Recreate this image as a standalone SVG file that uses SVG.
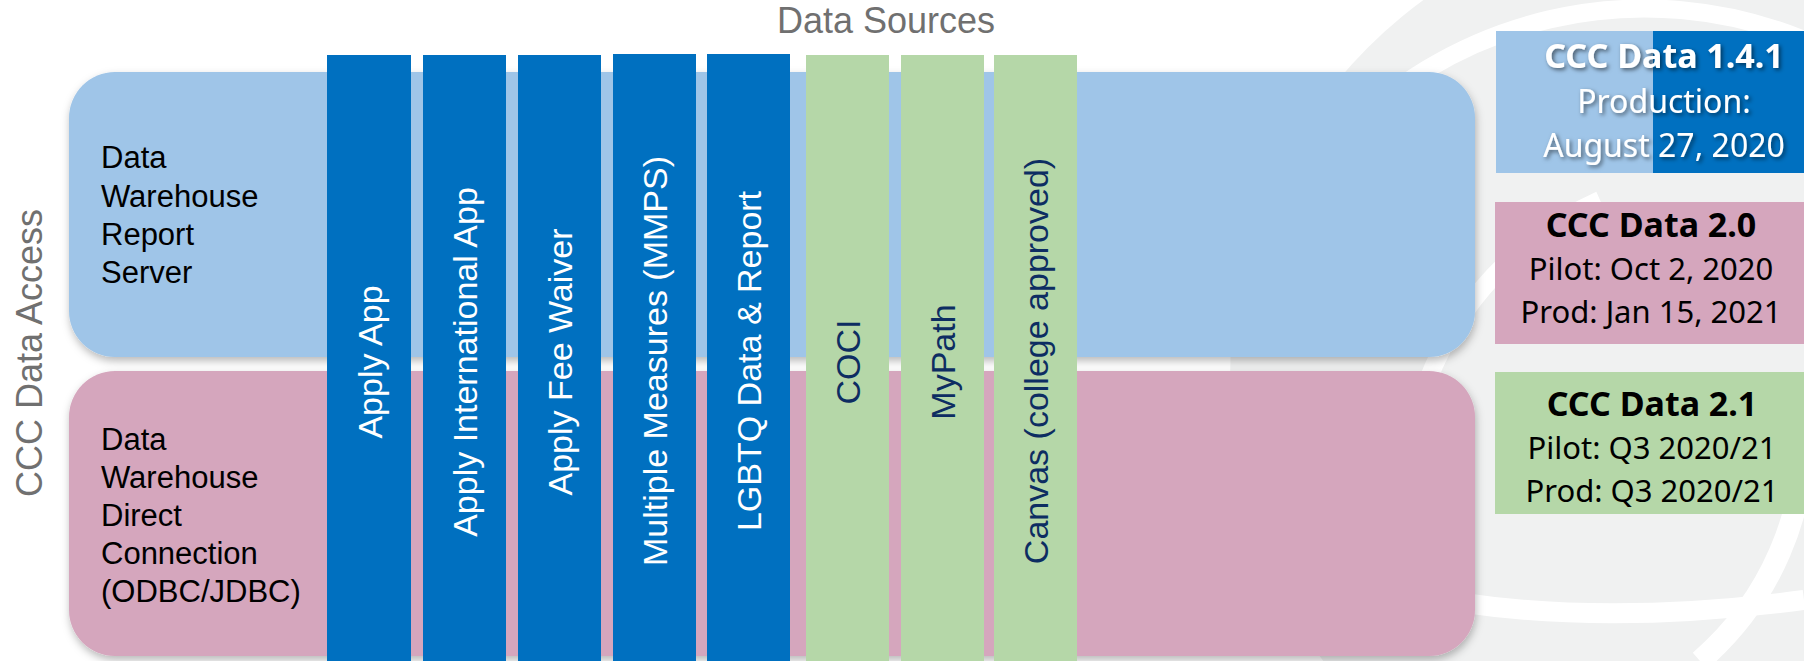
<svg xmlns="http://www.w3.org/2000/svg" width="1804" height="661" viewBox="0 0 1804 661">
  <defs>
    <filter id="bandShadow" x="-5%" y="-10%" width="110%" height="125%">
      <feDropShadow dx="1" dy="4" stdDeviation="4" flood-color="#000" flood-opacity="0.28"/>
    </filter>
    <filter id="textShadow" x="-10%" y="-30%" width="120%" height="160%">
      <feDropShadow dx="2" dy="2" stdDeviation="2" flood-color="#000" flood-opacity="0.55"/>
    </filter>
    <style>
      .gray { font-family: "Liberation Sans", Arial, sans-serif; fill: #707070; font-size: 36px; }
      .band-label { font-family: "Liberation Sans", Arial, sans-serif; fill: #000; font-size: 31px; }
      .col-text { font-family: "Liberation Sans", Arial, sans-serif; font-size: 34px; text-anchor: middle; }
      .blue-col { fill: #0070C0; }
      .green-col { fill: #B5D7A8; }
      .on-blue { fill: #FFFFFF; }
      .on-green { fill: #0D2D62; }
      .ver-bold { font-family: "Noto Sans", "Open Sans", sans-serif; font-weight: bold; font-size: 34px; text-anchor: middle; }
      .ver-reg { font-family: "Noto Sans", "Open Sans", sans-serif; font-size: 31px; text-anchor: middle; }
    </style>
  </defs>

  <rect x="0" y="0" width="1804" height="661" fill="#FFFFFF"/>

  <!-- background watermark -->
  <g id="watermark" fill="none">
    <circle cx="1700" cy="380" r="470" fill="#F0F1F1"/>
    <path d="M1330 150 A420 420 0 0 1 1804 40" stroke="#FFFFFF" stroke-width="18"/>
    <path d="M1420 600 A330 330 0 0 1 1600 200" stroke="#FFFFFF" stroke-width="18"/>
    <path d="M1700 661 A300 300 0 0 0 1804 420" stroke="#FFFFFF" stroke-width="22"/>
    <path d="M1300 560 Q1500 640 1804 600" stroke="#FFFFFF" stroke-width="20"/>
  </g>

  <!-- bands -->
  <g id="band-report-server">
    <rect x="69" y="72" width="1406" height="285" rx="46" ry="46" fill="#9FC5E8" filter="url(#bandShadow)"/>
    <text class="band-label" x="101">
      <tspan x="101" y="168">Data</tspan>
      <tspan x="101" y="207">Warehouse</tspan>
      <tspan x="101" y="245">Report</tspan>
      <tspan x="101" y="283">Server</tspan>
    </text>
  </g>
  <g id="band-direct-connection">
    <rect x="69" y="371" width="1406" height="285" rx="46" ry="46" fill="#D5A6BD" filter="url(#bandShadow)"/>
    <text class="band-label" x="101">
      <tspan x="101" y="450">Data</tspan>
      <tspan x="101" y="488">Warehouse</tspan>
      <tspan x="101" y="526">Direct</tspan>
      <tspan x="101" y="564">Connection</tspan>
      <tspan x="101" y="602">(ODBC/JDBC)</tspan>
    </text>
  </g>

  <!-- titles -->
  <g id="title-data-sources">
    <text class="gray" x="886" y="33" text-anchor="middle">Data Sources</text>
  </g>
  <g id="title-data-access">
    <text class="gray" x="42" y="353" text-anchor="middle" transform="rotate(-90 42 353)">CCC Data Access</text>
  </g>

  <!-- data source columns -->
  <g id="col-apply-app">
    <rect class="blue-col" x="327" y="55" width="84" height="606"/>
    <text class="col-text on-blue" x="382" y="362" transform="rotate(-90 382 362)">Apply App</text>
  </g>
  <g id="col-apply-international">
    <rect class="blue-col" x="423" y="55" width="83" height="606"/>
    <text class="col-text on-blue" x="477" y="362" transform="rotate(-90 477 362)">Apply International App</text>
  </g>
  <g id="col-apply-fee-waiver">
    <rect class="blue-col" x="518" y="55" width="83" height="606"/>
    <text class="col-text on-blue" x="572" y="362" transform="rotate(-90 572 362)">Apply Fee Waiver</text>
  </g>
  <g id="col-multiple-measures">
    <rect class="blue-col" x="613" y="54" width="83" height="607"/>
    <text class="col-text on-blue" x="667" y="361" transform="rotate(-90 667 361)">Multiple Measures (MMPS)</text>
  </g>
  <g id="col-lgbtq">
    <rect class="blue-col" x="707" y="54" width="83" height="607"/>
    <text class="col-text on-blue" x="761" y="361" transform="rotate(-90 761 361)">LGBTQ Data &amp; Report</text>
  </g>
  <g id="col-coci">
    <rect class="green-col" x="806" y="55" width="83" height="606"/>
    <text class="col-text on-green" x="860" y="362" transform="rotate(-90 860 362)">COCI</text>
  </g>
  <g id="col-mypath">
    <rect class="green-col" x="901" y="55" width="83" height="606"/>
    <text class="col-text on-green" x="955" y="362" transform="rotate(-90 955 362)">MyPath</text>
  </g>
  <g id="col-canvas">
    <rect class="green-col" x="994" y="55" width="83" height="606"/>
    <text class="col-text on-green" x="1048" y="361" transform="rotate(-90 1048 361)">Canvas (college approved)</text>
  </g>

  <!-- version boxes -->
  <g id="version-1-4-1">
    <rect x="1496" y="31" width="157" height="142" fill="#9FC5E8"/>
    <rect x="1653" y="31" width="151" height="142" fill="#0070C0"/>
    <g fill="#FFFFFF" filter="url(#textShadow)">
      <text class="ver-bold" x="1664" y="68">CCC Data 1.4.1</text>
      <text class="ver-reg" x="1664" y="113" style="font-size:32px">Production:</text>
      <text class="ver-reg" x="1664" y="157" style="font-size:32px">August 27, 2020</text>
    </g>
  </g>
  <g id="version-2-0">
    <rect x="1495" y="202" width="309" height="142" fill="#D5A6BD"/>
    <g fill="#000000">
      <text class="ver-bold" x="1651" y="237">CCC Data 2.0</text>
      <text class="ver-reg" x="1651" y="280">Pilot: Oct 2, 2020</text>
      <text class="ver-reg" x="1651" y="323">Prod: Jan 15, 2021</text>
    </g>
  </g>
  <g id="version-2-1">
    <rect x="1495" y="372" width="309" height="142" fill="#B5D7A8"/>
    <g fill="#000000">
      <text class="ver-bold" x="1652" y="416">CCC Data 2.1</text>
      <text class="ver-reg" x="1652" y="459">Pilot: Q3 2020/21</text>
      <text class="ver-reg" x="1652" y="502">Prod: Q3 2020/21</text>
    </g>
  </g>

  <g id="connectors"></g>
</svg>
